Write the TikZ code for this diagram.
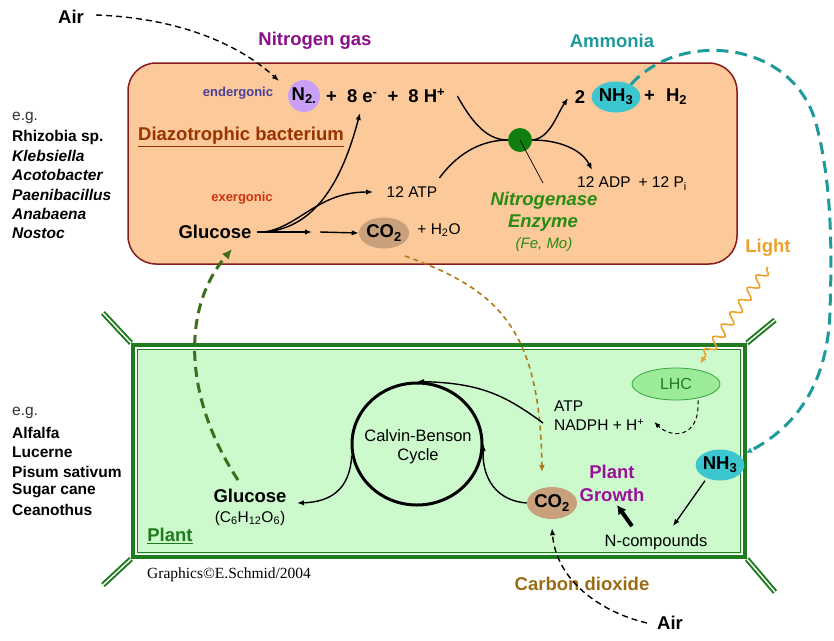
\documentclass[tikz,border=0pt]{standalone}
\usepackage{fontspec}
\setmainfont{Liberation Sans}
\newfontfamily\credfont{Liberation Serif}
\usetikzlibrary{arrows.meta,decorations.pathmorphing,shapes.geometric}
\definecolor{peach}{HTML}{FBC99A}
\definecolor{bactborder}{HTML}{8B1A1A}
\definecolor{plantfill}{HTML}{CCFACC}
\definecolor{dkgreen}{HTML}{1E7B1E}
\definecolor{ngpurple}{HTML}{8B108B}
\definecolor{ammteal}{HTML}{1F9A9A}
\definecolor{endblue}{HTML}{4B3F99}
\definecolor{exred}{HTML}{CC3311}
\definecolor{diazobrown}{HTML}{993300}
\definecolor{lavender}{HTML}{C9A0F5}
\definecolor{nhcyan}{HTML}{3CC6D0}
\definecolor{cotan}{HTML}{C8A07C}
\definecolor{enzgreen}{HTML}{0F7F0F}
\definecolor{nitrogreen}{HTML}{2A8A14}
\definecolor{lightorange}{HTML}{EBA22A}
\definecolor{lhcfill}{HTML}{9BEB9B}
\definecolor{lhcdraw}{HTML}{3AA53A}
\definecolor{lhctext}{HTML}{1E7B1E}
\definecolor{growthpurple}{HTML}{991199}
\definecolor{co2brown}{HTML}{9C6B17}
\definecolor{olivedash}{HTML}{3C6E1E}
\definecolor{browndash}{HTML}{B07A1A}
\begin{document}
\begin{tikzpicture}[x=1pt,y=-1pt,
  big/.style={font=\fontsize{18.5pt}{23pt}\selectfont\bfseries, inner sep=0pt},
  bigi/.style={font=\fontsize{18.5pt}{23pt}\selectfont\bfseries\itshape, inner sep=0pt},
  reg/.style={font=\fontsize{15.5pt}{19pt}\selectfont, inner sep=0pt},
  tagb/.style={font=\fontsize{13pt}{15pt}\selectfont\bfseries, inner sep=0pt},
  lreg/.style={font=\fontsize{15.5pt}{19pt}\selectfont, inner sep=0pt, anchor=west, text=black!80},
  lst/.style={font=\fontsize{15.5pt}{19pt}\selectfont\bfseries, inner sep=0pt, anchor=west},
  lsti/.style={font=\fontsize{15.5pt}{19pt}\selectfont\bfseries\itshape, inner sep=0pt, anchor=west},
  blob/.style={ellipse, inner sep=0pt, font=\fontsize{18.5pt}{23pt}\selectfont\bfseries},
  arr/.style={-{Latex[length=7pt,width=5.5pt]}, line width=1.4pt},
  blackdash/.style={dash pattern=on 6pt off 4pt, line width=1.4pt, -{Latex[length=7pt,width=5.5pt]}},
  diag/.style={dkgreen, line width=2pt, double=white, double distance=1.4pt}
]
\fill[white] (0,0) rectangle (834,640);
\useasboundingbox (0,0) rectangle (834,640);

% bacterium box
\draw[bactborder, fill=peach, line width=1.5pt, rounded corners=28pt] (128,63) rectangle (737,264);

% plant cell
\fill[plantfill] (131,343) rectangle (747,559);
\draw[diag] (131,343) -- (103,313);
\draw[diag] (747,343) -- (775,320);
\draw[diag] (131,559) -- (103,585);
\draw[diag] (747,559) -- (775,592);
\draw[dkgreen, line width=4.5pt] (133,345) rectangle (745,557);
\draw[white, line width=1.2pt] (135.9,347.9) rectangle (742.1,554.1);
\draw[dkgreen, line width=1.5pt] (137.3,349.3) rectangle (740.7,552.7);

% left lists
\node[lreg] (b0) at (12,118) {e.g.};
\node[lst] (b1) at (12,137) {Rhizobia sp.};
\node[lsti] (b2) at (12,156) {Klebsiella};
\node[lsti] (b3) at (12,175) {Acotobacter};
\node[lsti] (b4) at (12,195) {Paenibacillus};
\node[lsti] (b5) at (12,214) {Anabaena};
\node[lsti] (b6) at (12,233) {Nostoc};
\node[lreg] (p0) at (12,413) {e.g.};
\node[lst] (p1) at (12,433) {Alfalfa};
\node[lst] (p2) at (12,452) {Lucerne};
\node[lst] (p3) at (12,472) {Pisum sativum};
\node[lst] (p4) at (12,491) {Sugar cane};
\node[lst] (p5) at (12,510) {Ceanothus};

% top labels
\node[big] (airtop) at (71,17) {Air};
\node[big, text=ngpurple] (n2gas) at (315,41) {Nitrogen gas};
\node[big, text=ammteal] (ammonia) at (612,41) {Ammonia};

% bacterium content
\node[tagb, text=endblue] (ender) at (238,93) {endergonic};
\node[blob, circle, fill=lavender, minimum size=32pt] (n2) at (304,96) {N\textsubscript{2.}};
\node[big, anchor=west] (eq1) at (326,96) {+\hspace{10pt}8 e\textsuperscript{-}\hspace{10pt}+\hspace{10pt}8 H\textsuperscript{+}};
\node[big, text=diazobrown] (diazo) at (241,137) {\underline{Diazotrophic bacterium}};
\node[tagb, text=exred] (exer) at (242,198) {exergonic};
\node[reg] (atp12) at (412,192) {12 ATP};
\node[big] (glucB) at (215,232) {Glucose};
\node[blob, fill=cotan, minimum width=46pt, minimum height=31pt] (co2B) at (384,233) {CO\textsubscript{2}};
\node[reg] (h2o) at (439,230) {+ H\textsubscript{2}O};
\node[circle, fill=enzgreen, minimum size=24pt, inner sep=0pt] (enz) at (520,140) {};
\node[big] (two) at (580,97) {2};
\node[blob, fill=nhcyan, minimum width=48pt, minimum height=31pt] (nh3B) at (616,97) {NH\textsubscript{3}};
\node[big, anchor=west] (h2) at (644,97) {+\hspace{11pt}H\textsubscript{2}};
\node[reg, anchor=west] (adp) at (577,184) {12 ADP\hspace{8pt}+ 12 P\textsubscript{i}};
\node[bigi, text=nitrogreen] (nitro) at (544,201) {Nitrogenase};
\node[bigi, text=nitrogreen] (enzt) at (543,223) {Enzyme};
\node[font=\fontsize{15pt}{18pt}\selectfont\itshape, inner sep=0pt, text=nitrogreen] (femo) at (544,245) {(Fe, Mo)};

% right labels
\node[big, text=lightorange] (light) at (768,248) {Light};

% plant content
\node[ellipse, draw=lhcdraw, fill=lhcfill, minimum width=88pt, minimum height=32pt, inner sep=0pt, line width=0.8pt, font=\fontsize{16pt}{19pt}\selectfont, text=lhctext] (lhc) at (676,384) {LHC};
\node[reg, anchor=west] (atpP) at (554,406) {ATP};
\node[reg, anchor=west] (nadph) at (554,425) {NADPH + H\textsuperscript{+}};
\node[ellipse, draw, line width=3pt, minimum width=130pt, minimum height=122pt, inner sep=0pt] (calvin) at (417,444) {};
\node[font=\fontsize{16.5pt}{19pt}\selectfont, align=center, inner sep=0pt] (calvint) at (418,447) {Calvin-Benson\\Cycle};
\node[big] (glucP) at (250,496) {Glucose};
\node[reg] (formula) at (250,518) {(C\textsubscript{6}H\textsubscript{12}O\textsubscript{6})};
\node[big, text=dkgreen] (plantl) at (170,536) {\underline{Plant}};
\node[blob, fill=cotan, minimum width=46pt, minimum height=32pt] (co2P) at (552,503) {CO\textsubscript{2}};
\node[big, text=growthpurple, align=center] (growth) at (612,483.5) {Plant\\Growth};
\node[blob, fill=nhcyan, minimum width=46pt, minimum height=31pt] (nh3P) at (720,465) {NH\textsubscript{3}};
\node[font=\fontsize{16.5pt}{19pt}\selectfont, inner sep=0pt] (ncomp) at (656,542) {N-compounds};
\node[big, text=co2brown] (co2lbl) at (582,584) {Carbon dioxide};
\node[big] (airbot) at (670,623) {Air};
\node[font=\credfont\fontsize{15.5pt}{18pt}\selectfont, inner sep=0pt, anchor=west] (credit) at (147,575) {Graphics©E.Schmid/2004};

% coordinates for free ends
\coordinate (tipA) at (279,81);
\coordinate (g1) at (312,232);
\coordinate (g2) at (320,232);
\coordinate (etip) at (360,113);
\coordinate (atip) at (373,192);
\coordinate (ntip) at (568,98);
\coordinate (adptip) at (592,170);
\coordinate (ptr) at (543,183);
\coordinate (tealtip) at (746,453);
\coordinate (gstart) at (238,480);
\coordinate (gtipB) at (232,249);
\coordinate (bstart) at (405,256);
\coordinate (btip) at (542,472);
\coordinate (gtip) at (297,503);

% connectors in bacterium
\draw[blackdash] ([xshift=12pt,yshift=2pt]airtop.east) .. controls (180,18) and (240,45) .. (tipA);
\draw[arr] ([xshift=5pt]glucB.east) -- (g1);
\draw[arr] (g2) -- (co2B.west);
\draw[arr] ([xshift=10pt]glucB.east) .. controls (320,230) and (345,170) .. (etip);
\draw[arr] ([xshift=13pt]glucB.east) .. controls (300,226) and (318,192) .. (atip);
\draw[line width=1.4pt] ([xshift=12pt]eq1.east) .. controls (475,128) and (490,140) .. (enz.west);
\draw[line width=1.4pt] ([xshift=2pt,yshift=14pt]atp12.east) .. controls (460,150) and (485,140) .. (enz.west);
\draw[arr] (enz.east) .. controls (550,138) and (556,116) .. (ntip);
\draw[arr] (enz.east) .. controls (560,140) and (582,150) .. (adptip);
\draw[line width=0.7pt] (enz.center) -- (ptr);

% long dashed connectors
\draw[ammteal, line width=3pt, dash pattern=on 12pt off 7pt, -{Latex[length=6pt,width=6pt]}] (nh3B.40) .. controls (680,30) and (790,40) .. (815,120) .. controls (832,180) and (832,250) .. (830,310) .. controls (828,390) and (790,430) .. (tealtip);
\draw[olivedash, line width=3pt, dash pattern=on 10pt off 6pt, -{Latex[length=10pt,width=9pt]}] (gstart) .. controls (185,400) and (180,310) .. (gtipB);
\draw[browndash, line width=1.6pt, dash pattern=on 5pt off 4pt, -{Latex[length=7pt,width=6pt]}] (bstart) .. controls (500,290) and (540,330) .. (btip);

% plant connectors
\draw[arr] ([xshift=-11pt,yshift=2pt]nadph.west) .. controls (505,395) and (480,383) .. (calvin.north);
\draw[arr] (co2P.west) .. controls (490,500) and (482,470) .. (calvin.east);
\draw[arr] (calvin.190) .. controls (350,490) and (330,502) .. (gtip);
\draw[line width=1pt, dash pattern=on 4pt off 3pt, -{Latex[length=6pt,width=5pt]}] ([xshift=22pt]lhc.south) .. controls (700,440) and (670,438) .. ([xshift=10pt,yshift=3pt]nadph.east);
\draw[lightorange, line width=1.6pt, decorate, decoration={snake, amplitude=5pt, segment length=15pt, pre length=2pt, post length=9pt}, -{Latex[length=7pt,width=6pt]}] ([yshift=-10pt]light.south) -- ([xshift=24pt,yshift=4pt]lhc.north);
\draw[arr, line width=1.3pt] ([xshift=-15pt]nh3P.south) -- ([xshift=17pt,yshift=8pt]ncomp.north);
\draw[line width=4pt, -{Latex[length=9pt,width=10pt]}] ([xshift=-24pt,yshift=8pt]ncomp.north) -- ([xshift=5pt,yshift=-3pt]growth.south);
\draw[blackdash] ([xshift=-10pt]airbot.west) .. controls (600,612) and (556,580) .. ([yshift=-9pt]co2P.south);
\end{tikzpicture}
\end{document}
